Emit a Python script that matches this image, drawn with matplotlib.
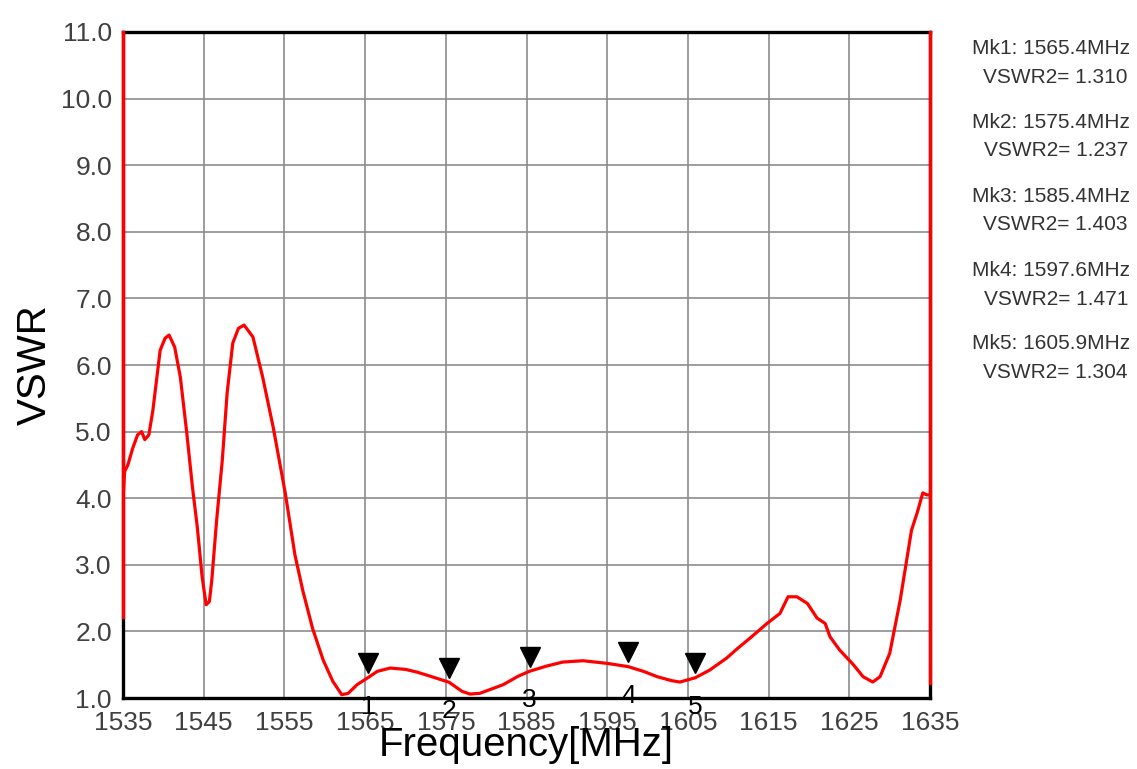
import matplotlib.pyplot as plt
import matplotlib.transforms as mtransforms

# VSWR trace
freq = [1535.0, 1535.2, 1535.6, 1536.2, 1536.8, 1537.3, 1537.7, 1538.2, 1538.7, 1539.2,
        1539.6, 1540.2, 1540.7, 1541.4, 1542.1, 1542.9, 1543.6, 1544.2, 1544.8, 1545.3,
        1545.7, 1546.0, 1546.6, 1547.3, 1547.9, 1548.6, 1549.3, 1550.0, 1551.1, 1552.3,
        1553.6, 1555.1, 1556.3, 1557.3, 1558.5, 1559.8, 1561.0, 1562.1, 1562.9, 1564.0,
        1565.4, 1566.5, 1568.1, 1570.0, 1571.4, 1573.0, 1575.4, 1577.0, 1578.0, 1579.2,
        1582.1, 1584.0, 1585.4, 1587.5, 1589.5, 1592.0, 1595.0, 1597.6, 1599.5, 1601.2,
        1603.0, 1604.0, 1605.9, 1607.7, 1609.8, 1611.2, 1612.7, 1614.8, 1616.4, 1617.4,
        1618.5, 1619.8, 1621.0, 1622.0, 1622.6, 1623.8, 1625.5, 1626.7, 1627.9, 1628.8,
        1630.0, 1631.3, 1632.1, 1632.7, 1633.4, 1634.1, 1634.6, 1635.0]
vswr = [4.00, 4.40, 4.50, 4.75, 4.95, 5.00, 4.88, 4.95, 5.32, 5.82,
        6.22, 6.40, 6.45, 6.27, 5.82, 4.98, 4.17, 3.57, 2.82, 2.40,
        2.45, 2.77, 3.67, 4.57, 5.58, 6.33, 6.55, 6.60, 6.42, 5.82,
        5.07, 4.08, 3.15, 2.60, 2.04, 1.57, 1.25, 1.05, 1.07, 1.20,
        1.31, 1.40, 1.45, 1.43, 1.39, 1.33, 1.237, 1.10, 1.06, 1.07,
        1.20, 1.33, 1.403, 1.48, 1.54, 1.56, 1.52, 1.471, 1.40, 1.32,
        1.26, 1.24, 1.304, 1.42, 1.60, 1.75, 1.90, 2.12, 2.27, 2.52,
        2.52, 2.42, 2.20, 2.12, 1.92, 1.72, 1.50, 1.32, 1.24, 1.32,
        1.67, 2.47, 3.07, 3.52, 3.78, 4.08, 4.05, 4.05]

mk_freq = [1565.4, 1575.4, 1585.4, 1597.6, 1605.9]
mk_vswr = [1.310, 1.237, 1.403, 1.471, 1.304]
mk_names = ["1", "2", "3", "4", "5"]

x_ticks = [1535, 1545, 1555, 1565, 1575, 1585, 1595, 1605, 1615, 1625, 1635]
y_ticks = [1.0, 2.0, 3.0, 4.0, 5.0, 6.0, 7.0, 8.0, 9.0, 10.0, 11.0]

plt.rcParams["font.family"] = ["Liberation Sans", "DejaVu Sans"]

fig = plt.figure(figsize=(11.37, 7.69), dpi=100)
ax = fig.add_axes([0.1082, 0.0923, 0.7098, 0.8661])

ax.plot(freq, vswr, color="#ff0000", linewidth=2.3, zorder=4)

ax.set_xlim(1535, 1635)
ax.set_ylim(1.0, 11.0)
ax.set_xticks(x_ticks)
ax.set_yticks(y_ticks)
ax.set_yticklabels([f"{v:.1f}" for v in y_ticks])
ax.tick_params(length=0, labelsize=19, labelcolor="#404040")
ax.tick_params(axis="x", pad=9)
ax.tick_params(axis="y", pad=8)
ax.grid(True, color="#8c8c8c", linewidth=1.2)
ax.set_axisbelow(True)

for side in ["top", "bottom", "left", "right"]:
    ax.spines[side].set_color("black")
    ax.spines[side].set_linewidth(2.4)

# red edges over the side spines
ax.axvline(1535, ymin=0.122, ymax=1.0, color="#ff0000", linewidth=2.4, clip_on=False, zorder=5)
ax.axvline(1635, ymin=0.023, ymax=1.0, color="#ff0000", linewidth=2.4, clip_on=False, zorder=5)

ax.set_xlabel("Frequency[MHz]", fontsize=29, color="black", labelpad=-6)
ax.set_ylabel("VSWR", fontsize=29, color="black", labelpad=5)

# markers
tri = mtransforms.offset_copy(ax.transData, fig=fig, y=10.5, units="points")
ax.plot(mk_freq, mk_vswr, linestyle="none", marker="v", markersize=14.5,
        color="black", transform=tri, zorder=6, clip_on=False)
for f, v, n in zip(mk_freq, mk_vswr, mk_names):
    ax.annotate(n, (f, v), xytext=(0, -21), textcoords="offset points",
                ha="center", va="center", fontsize=19, color="black",
                annotation_clip=False, zorder=6)

# marker readout
for i, (f, v) in enumerate(zip(mk_freq, mk_vswr)):
    y0 = 1 - (48 + 74 * i) / 769
    fig.text(0.994, y0, f"Mk{i + 1}: {f:.1f}MHz", ha="right", va="center",
             fontsize=15, color="#333333")
    fig.text(0.992, y0 - 29 / 769, f"VSWR2= {v:.3f}", ha="right", va="center",
             fontsize=15, color="#333333")

fig.savefig("out.png", dpi=100)
